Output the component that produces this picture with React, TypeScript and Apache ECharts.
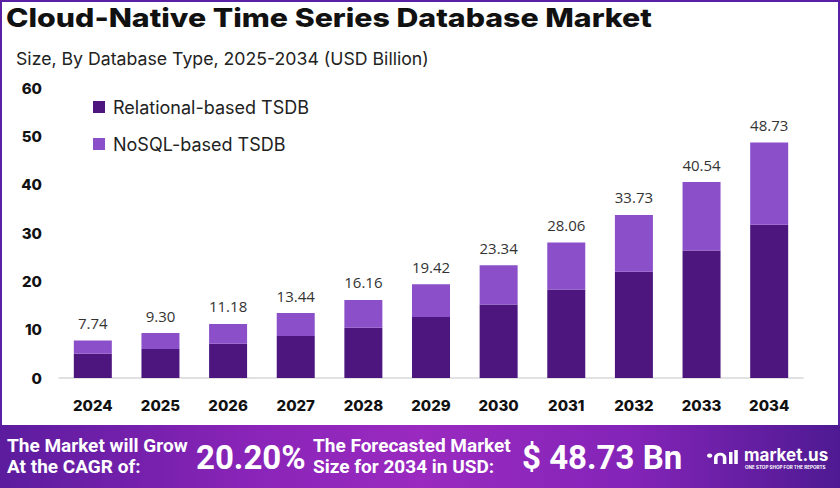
import React, { useEffect, useRef } from "react";
import * as echarts from "echarts";

const years = ["2024", "2025", "2026", "2027", "2028", "2029", "2030", "2031", "2032", "2033", "2034"];
const totals = [7.74, 9.3, 11.18, 13.44, 16.16, 19.42, 23.34, 28.06, 33.73, 40.54, 48.73];
const relational = [5.0, 6.0, 7.1, 8.7, 10.4, 12.6, 15.2, 18.3, 22.0, 26.4, 31.7];
const nosql = [2.74, 3.3, 4.08, 4.74, 5.76, 6.82, 8.14, 9.76, 11.73, 14.14, 17.03];
const yTicks = [0, 10, 20, 30, 40, 50, 60];
const seriesNames = ["Relational-based TSDB", "NoSQL-based TSDB"];

const title = "Cloud-Native Time Series Database Market";
const subtitle = "Size, By Database Type, 2025-2034 (USD Billion)";
const cagrLabel = ["The Market will Grow", "At the CAGR of:"];
const cagrValue = "20.20%";
const forecastLabel = ["The Forecasted Market", "Size for 2034 in USD:"];
const forecastValue = "$ 48.73 Bn";

const DARK = "#4d167f";
const LIGHT = "#8b4fc9";

export default function App() {
  const ref = useRef<HTMLDivElement>(null);
  useEffect(() => {
    if (!ref.current) return;
    echarts.graphic.registerShape(
      "mlogo",
      echarts.graphic.extendPath(
        "M3 11 A3 3 0 1 1 3.01 11 Z M8 20 L8 11 A7 7 0 0 1 22 11 L22 20 L18 20 L18 11 A3 3 0 0 0 12 11 L12 20 Z M25 3 L29 3 L29 20 L25 20 Z M31 0 L35 0 L35 20 L31 20 Z",
        {}
      )
    );
    const chart = echarts.init(ref.current, undefined, { renderer: "svg" });
    const bannerFont = "Roboto, 'Noto Sans', sans-serif";
    chart.setOption({
      animation: false,
      backgroundColor: "#ffffff",
      textStyle: { fontFamily: "Inter, 'Noto Sans', sans-serif" },
      grid: { left: 59, right: 37, top: 88, bottom: 110, containLabel: false },
      legend: {
        orient: "vertical",
        left: 88,
        top: 93,
        itemWidth: 12,
        itemHeight: 12,
        itemGap: 19,
        icon: "rect",
        textStyle: { fontSize: 18, color: "#222", fontFamily: "Inter, sans-serif", padding: [0, 0, 0, 3] },
        data: seriesNames,
      },
      xAxis: {
        type: "category",
        data: years,
        axisLine: { lineStyle: { color: "#d8d8d8", width: 1.5 } },
        axisTick: { show: false },
        axisLabel: { color: "#111", fontWeight: 800, fontSize: 15, margin: 20 },
      },
      yAxis: {
        type: "value",
        min: yTicks[0],
        max: yTicks[yTicks.length - 1],
        interval: 10,
        splitLine: { show: false },
        axisLine: { show: false },
        axisTick: { show: false },
        axisLabel: { color: "#111", fontWeight: 800, fontSize: 15, margin: 17 },
      },
      series: [
        {
          name: seriesNames[0],
          type: "bar",
          stack: "total",
          barWidth: 38,
          data: relational,
          itemStyle: { color: DARK },
        },
        {
          name: seriesNames[1],
          type: "bar",
          stack: "total",
          barWidth: 38,
          data: nosql,
          itemStyle: { color: LIGHT },
          label: {
            show: true,
            position: "top",
            distance: 10,
            color: "#333",
            fontSize: 15,
            fontFamily: "'Open Sans', sans-serif",
            formatter: (p: any) => totals[p.dataIndex].toFixed(2),
          },
        },
      ],
      graphic: [
        {
          type: "rect",
          shape: { x: 1, y: 1, width: 838, height: 486 },
          style: { fill: "none", stroke: "#5a20a4", lineWidth: 2 },
          silent: true,
        },
        {
          type: "text",
          x: 6,
          y: 5,
          scaleX: 1.165,
          style: { text: title, fontSize: 26, fontWeight: 800, fill: "#111", fontFamily: "Inter, sans-serif" },
        },
        {
          type: "text",
          x: 16,
          y: 49,
          style: { text: subtitle, fontSize: 17.7, fill: "#222", fontFamily: "Inter, sans-serif" },
        },
        {
          type: "rect",
          shape: { x: 0, y: 425, width: 840, height: 63 },
          style: {
            fill: new echarts.graphic.LinearGradient(0, 0, 1, 0, [
              { offset: 0, color: "#5c1c9e" },
              { offset: 0.3, color: "#8a24b8" },
              { offset: 0.5, color: "#9a2ac0" },
              { offset: 0.75, color: "#8424b8" },
              { offset: 1, color: "#4e1a92" },
            ]),
          },
        },
        {
          type: "text",
          x: 7,
          y: 436,
          style: { text: cagrLabel[0], fontSize: 19, fontWeight: 700, fill: "#fff", fontFamily: bannerFont },
        },
        {
          type: "text",
          x: 7,
          y: 457,
          style: { text: cagrLabel[1], fontSize: 19, fontWeight: 700, fill: "#fff", fontFamily: bannerFont },
        },
        {
          type: "text",
          x: 196,
          y: 441,
          style: { text: cagrValue, fontSize: 33, fontWeight: 700, fill: "#fff", fontFamily: bannerFont },
        },
        {
          type: "text",
          x: 313,
          y: 436,
          style: { text: forecastLabel[0], fontSize: 19, fontWeight: 700, fill: "#fff", fontFamily: bannerFont },
        },
        {
          type: "text",
          x: 313,
          y: 457,
          style: { text: forecastLabel[1], fontSize: 19, fontWeight: 700, fill: "#fff", fontFamily: bannerFont },
        },
        {
          type: "text",
          x: 522,
          y: 441,
          style: { text: forecastValue, fontSize: 33, fontWeight: 700, fill: "#fff", fontFamily: bannerFont },
        },
        {
          type: "mlogo",
          x: 707,
          y: 450,
          scaleX: 0.88,
          scaleY: 0.7,
          style: { fill: "#fff" },
        },
        {
          type: "text",
          x: 744,
          y: 446,
          style: { text: "market.us", fontSize: 17, fontWeight: 700, fill: "#fff", fontFamily: "Inter, sans-serif" },
        },
        {
          type: "text",
          x: 745,
          y: 465,
          style: { text: "ONE STOP SHOP FOR THE REPORTS", fontSize: 4.6, fontWeight: 700, fill: "#fff", fontFamily: "Inter, sans-serif" },
        },
      ],
    });
    return () => chart.dispose();
  }, []);
  return <div ref={ref} style={{ position: "absolute", left: 0, top: 0, width: 840, height: 488 }} />;
}
